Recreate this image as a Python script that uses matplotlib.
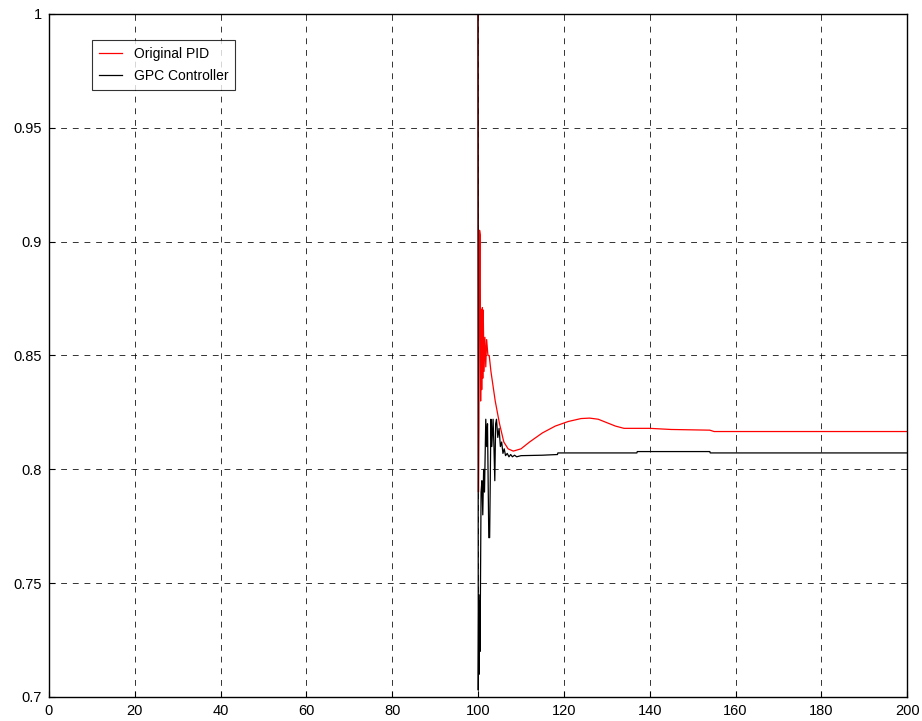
import matplotlib
matplotlib.use("Agg")
import matplotlib.pyplot as plt
from matplotlib.ticker import FuncFormatter

plt.rcParams['font.family'] = ['Liberation Sans', 'DejaVu Sans']

pid_t = [0, 99.99, 100.1, 100.2, 100.35, 100.5, 100.6, 100.75, 100.85, 101.0, 101.1, 101.2,
         101.4, 101.6, 101.8, 102.0, 102.3, 102.6, 103.0, 104.0, 105.0, 106.0, 107.0, 108.2,
         110, 112, 115, 118, 121, 124, 126, 128, 130, 132, 134, 140, 145, 154, 155, 200]
pid_v = [1.0, 1.0, 0.79, 0.82, 0.905, 0.903, 0.83, 0.87, 0.835, 0.871, 0.84, 0.87,
         0.843, 0.858, 0.845, 0.857, 0.85, 0.85, 0.843, 0.83, 0.82, 0.812, 0.809, 0.808,
         0.809, 0.812, 0.816, 0.819, 0.821, 0.8223, 0.8225, 0.822, 0.8205, 0.819, 0.818,
         0.818, 0.8175, 0.8172, 0.8166, 0.8166]

gpc_t = [0, 99.99, 100.05, 100.15, 100.25, 100.35, 100.45, 100.55, 100.7, 100.9, 101.1, 101.3,
         101.5, 101.8, 102.0, 102.2, 102.5, 102.7, 103.0, 103.2, 103.5, 103.7, 103.9, 104.1,
         104.3, 104.6, 104.9, 105.2, 105.5, 105.8, 106.1, 106.4, 106.8, 107.2, 107.6, 108.0,
         108.5, 109.0, 110, 115, 118.5, 118.6, 137, 137.1, 154, 154.1, 200]
gpc_v = [1.0, 1.0, 0.703, 0.745, 0.71, 0.742, 0.72, 0.745, 0.79, 0.795, 0.78, 0.80,
         0.79, 0.822, 0.81, 0.82, 0.77, 0.77, 0.822, 0.81, 0.822, 0.81, 0.795, 0.82,
         0.822, 0.814, 0.818, 0.81, 0.812, 0.807, 0.809, 0.806, 0.807, 0.8055, 0.8065, 0.8055,
         0.8062, 0.8055, 0.806, 0.8062, 0.8065, 0.8072, 0.8072, 0.8078, 0.8078, 0.8072, 0.8072]

x_ticks = list(range(0, 201, 20))
y_ticks = [0.7, 0.75, 0.8, 0.85, 0.9, 0.95, 1.0]

fig = plt.figure(figsize=(9.22, 7.21), dpi=100)
ax = fig.add_axes([0.053, 0.0333, 0.931, 0.9473])

ax.plot(pid_t, pid_v, color='red', lw=0.9, label='Original PID')
ax.plot(gpc_t, gpc_v, color='black', lw=0.9, label='GPC Controller')

ax.set_xlim(0, 200)
ax.set_ylim(0.7, 1.0)
ax.set_xticks(x_ticks)
ax.set_yticks(y_ticks)
ax.yaxis.set_major_formatter(FuncFormatter(lambda v, p: f"{v:g}"))
ax.tick_params(direction='in', length=4, labelsize=10.5, pad=5, top=False, right=False)
ax.grid(True, color='black', linestyle=(0, (6, 6)), lw=0.7, alpha=0.8)
for s in ax.spines.values():
    s.set_linewidth(1.0)

leg = ax.legend(loc='upper left', bbox_to_anchor=(0.0501, 0.962), borderaxespad=0,
                fontsize=10, frameon=True, fancybox=False, edgecolor='black',
                handlelength=1.7, borderpad=0.5, labelspacing=0.6, handletextpad=0.8)
leg.get_frame().set_linewidth(0.8)

fig.savefig('out.png', dpi=100)
